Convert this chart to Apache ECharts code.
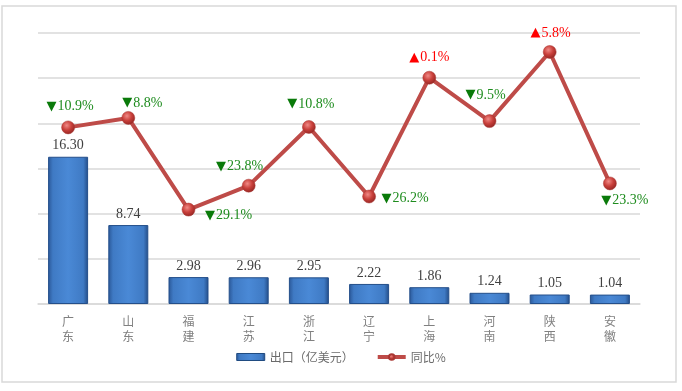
<!DOCTYPE html>
<html><head><meta charset="utf-8">
<script src="https://cdn.jsdelivr.net/npm/echarts@6/dist/echarts.min.js"></script>
<style>html,body{margin:0;padding:0;background:#fff}#c{width:682px;height:391px}</style>
</head><body><div id="c"></div>
<script>
const categories = ['广东','山东','福建','江苏','浙江','辽宁','上海','河南','陕西','安徽'];
const exportValues = [16.30, 8.74, 2.98, 2.96, 2.95, 2.22, 1.86, 1.24, 1.05, 1.04];
const yoyValues = [-10.9, -8.8, -29.1, -23.8, -10.8, -26.2, 0.1, -9.5, 5.8, -23.3];
const seriesNames = ['出口（亿美元）', '同比%'];

// label offsets (layout only)
const labelOffsets = [[2,-21],[14,-15],[40,6],[-9,-19],[2,-23],[36,2],[0,-20],[-4,-26],[1,-19],[15,17]];

const chart = echarts.init(document.getElementById('c'), null, {renderer:'canvas'});
const serif = '"Liberation Serif","Times New Roman",serif';
const arrowFont = '"DejaVu Sans",sans-serif';
const barColor = {type:'linear',x:0,y:0,x2:1,y2:0,colorStops:[
  {offset:0,color:'#2a5797'},{offset:0.12,color:'#3f7ac4'},{offset:0.5,color:'#4a89d6'},{offset:0.88,color:'#3f7ac4'},{offset:1,color:'#234c86'}]};
const dotColor = {type:'radial',x:0.4,y:0.35,r:0.7,colorStops:[
  {offset:0,color:'#f08a86'},{offset:0.5,color:'#c9403b'},{offset:1,color:'#8e2320'}]};

chart.setOption({
  animation:false,
  graphic:[{type:'rect',shape:{x:2,y:6,width:674,height:376},style:{fill:'none',stroke:'#d9d9d9',lineWidth:1.5},silent:true}],
  grid:{left:38,right:42,top:33,bottom:87},
  legend:{
    bottom:23,left:'center',itemGap:22,itemWidth:28,itemHeight:7,
    textStyle:{color:'#6b6b6b',fontSize:12,fontFamily:'"Noto Sans CJK SC",sans-serif'},
    data:[
      {name:seriesNames[0],icon:'rect',itemStyle:{color:barColor,borderColor:'#1f4a80',borderWidth:1}},
      {name:seriesNames[1],itemStyle:{color:dotColor},lineStyle:{width:4,color:'#be4b48'}}
    ]
  },
  xAxis:{
    type:'category',data:categories,
    axisLine:{lineStyle:{color:'#d9d9d9',width:1.5}},
    axisTick:{show:false},
    axisLabel:{color:'#808080',fontSize:12,lineHeight:15,margin:10,fontFamily:'"Noto Sans CJK SC",sans-serif',
      formatter:v=>v.split('').join('\n')}
  },
  yAxis:[
    {type:'value',min:0,max:30,interval:5,axisLabel:{show:false},axisLine:{show:false},axisTick:{show:false},
     splitLine:{lineStyle:{color:'#d9d9d9',width:1.5}}},
    {type:'value',min:-50,max:10,interval:10,axisLabel:{show:false},axisLine:{show:false},axisTick:{show:false},
     splitLine:{show:false}}
  ],
  series:[
    {name:seriesNames[0],type:'bar',yAxisIndex:0,barWidth:40,data:exportValues,
     itemStyle:{color:barColor,borderColor:'#244f8a',borderWidth:1},
     label:{show:true,position:'top',distance:4,color:'#404040',fontSize:14,fontFamily:serif,
       formatter:p=>p.value.toFixed(2)}},
    {name:seriesNames[1],type:'line',yAxisIndex:1,data:yoyValues.map((v,i)=>({value:v,label:{offset:labelOffsets[i]}})),
     symbol:'circle',symbolSize:13,
     lineStyle:{color:'#be4b48',width:4},
     itemStyle:{color:dotColor,borderColor:'#a93733',borderWidth:0.5},
     label:{show:true,position:'inside',fontFamily:serif,fontSize:14,
       formatter:p=>p.value<0?'{dn|▼}{g|'+Math.abs(p.value).toFixed(1)+'%}':'{up|▲}{r|'+p.value.toFixed(1)+'%}',
       rich:{
         dn:{color:'#0a7a0a',fontSize:13,fontFamily:arrowFont,padding:[0,1,0,0]},
         g:{color:'#1e8c1e',fontSize:14,fontFamily:serif},
         up:{color:'#ff0000',fontSize:13,fontFamily:arrowFont,padding:[0,1,0,0]},
         r:{color:'#ff0000',fontSize:14,fontFamily:serif}
       }}}
  ]
});
</script></body></html>
